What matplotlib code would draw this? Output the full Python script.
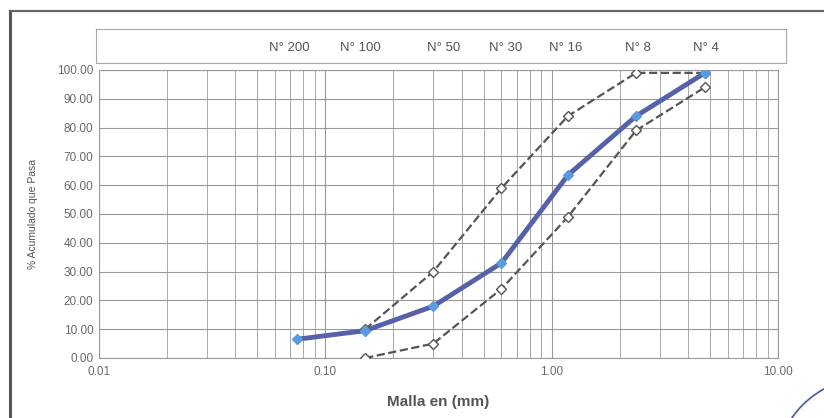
import matplotlib
matplotlib.use("Agg")
import matplotlib.pyplot as plt
from matplotlib.patches import Circle
from matplotlib.ticker import FixedLocator, FuncFormatter, LogLocator, NullFormatter, NullLocator

plt.rcParams['font.family'] = ['Liberation Sans', 'DejaVu Sans']

sieve_names = ["N° 200", "N° 100", "N° 50", "N° 30", "N° 16", "N° 8", "N° 4"]
sieve_mm = [0.075, 0.15, 0.3, 0.6, 1.18, 2.36, 4.75]
passing = [6.5, 9.5, 18.0, 33.0, 63.5, 84.0, 99.0]

limit_mm = [0.15, 0.3, 0.6, 1.18, 2.36, 4.75]
upper_limit = [10.0, 30.0, 59.0, 84.0, 99.0, 99.0]
lower_limit = [0.0, 5.0, 24.0, 49.0, 79.0, 94.0]

W, H = 824, 418
fig = plt.figure(figsize=(W/100, H/100), dpi=100)
ax = fig.add_axes([99/W, 1-358/H, 679/W, 288/H])

ax.set_xscale('log')
ax.set_xlim(0.01, 10)
ax.set_ylim(0, 100)

ax.xaxis.set_major_locator(FixedLocator([0.01, 0.1, 1, 10]))
ax.xaxis.set_minor_locator(LogLocator(base=10, subs=range(2, 10)))
ax.xaxis.set_minor_formatter(NullFormatter())
ax.xaxis.set_major_formatter(FuncFormatter(lambda v, p: f"{v:.2f}"))
ax.yaxis.set_major_locator(FixedLocator(list(range(0, 101, 10))))
ax.yaxis.set_major_formatter(FuncFormatter(lambda v, p: f"{v:.2f}"))

ax.grid(True, which='major', color='#999999', lw=0.8)
ax.grid(True, which='minor', axis='x', color='#a8a8a8', lw=0.7)
for s in ax.spines.values():
    s.set_color('#9a9a9a')
    s.set_linewidth(0.8)
ax.tick_params(axis='both', which='both', length=0, labelsize=8.5, colors='#6a6a6a', pad=4)
ax.tick_params(axis='x', pad=6)

ax.plot(limit_mm, upper_limit, ls='--', color='#555555', lw=1.6, marker='D',
        ms=5, mfc='white', mec='#555555', mew=1.0, zorder=3)
ax.plot(limit_mm, lower_limit, ls='--', color='#555555', lw=1.6, marker='D',
        ms=5, mfc='white', mec='#555555', mew=1.0, zorder=3)
ax.plot(sieve_mm, passing, color='#5561a8', lw=3.5, marker='D', ms=5,
        mfc='#5a9be0', mec='#5a9be0', zorder=4)

ax.set_xlabel("Malla en (mm)", fontsize=11, fontweight='bold', color='#555555', labelpad=12)
ax.set_ylabel("% Acumulado que Pasa", fontsize=7.5, color='#555555', labelpad=14)

# top sieve label box
axt = fig.add_axes([96/W, 1-63/H, 690/W, 34/H])
axt.set_xscale('log')
axt.set_xlim(10**(-2 - 3/679*3), 10**(1 + 8/679*3))
axt.set_ylim(0, 1)
axt.xaxis.set_major_locator(NullLocator())
axt.xaxis.set_minor_locator(NullLocator())
axt.yaxis.set_major_locator(NullLocator())
axt.yaxis.set_minor_locator(NullLocator())
for s in axt.spines.values():
    s.set_color('#a8a8a8')
    s.set_linewidth(0.8)
label_shift = [-8, -5, 10, 4, -2, 2, 1]
for name, mm, dx in zip(sieve_names, sieve_mm, label_shift):
    axt.annotate(name, (mm, 0.45), xytext=(dx * 0.72, 0), textcoords='offset points',
                 ha='center', va='center', fontsize=9.5, color='#555555')

# page border lines
fig.add_artist(plt.Line2D([10/W, 10/W], [0, 1-11/H], color='#555555', lw=2.2))
fig.add_artist(plt.Line2D([10/W, 1], [1-11/H, 1-11/H], color='#666666', lw=1.6))

# stamp arc (bottom-right)
stamp = Circle((870/W, 1-472/H), 95/W, transform=fig.transFigure, fill=False,
               ec='#4a55a8', lw=1.2)
stamp.set_transform(fig.dpi_scale_trans)
stamp.center = (870/100, (H-472)/100)
stamp.set_radius(95/100)
fig.add_artist(stamp)

fig.savefig("out.png", dpi=100)
